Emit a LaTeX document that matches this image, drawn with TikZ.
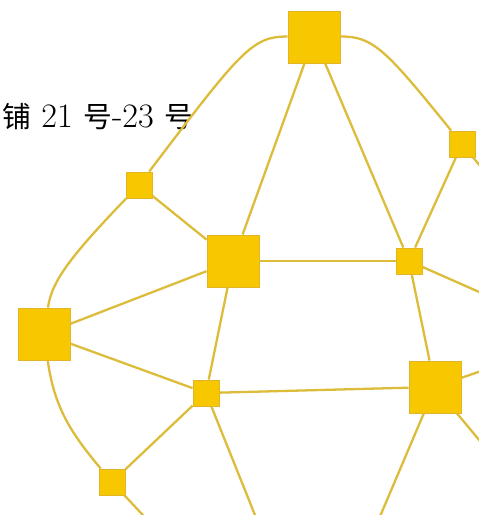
\documentclass[tikz,border=0pt]{standalone}
\usepackage{fontspec}
\newfontfamily\cjk[Scale=0.84]{Noto Sans CJK SC}
\usetikzlibrary{positioning}
\definecolor{NetGold}{RGB}{247,199,0}
\definecolor{NetRim}{RGB}{226,180,40}
\definecolor{NetEdge}{RGB}{220,188,56}
\tikzset{
  net/big/.style={
    rectangle,
    draw=NetRim,
    line width=0.5pt,
    fill=NetGold,
    minimum size=1.04cm,
    inner sep=0pt
  },
  net/small/.style={
    rectangle,
    draw=NetRim,
    line width=0.5pt,
    fill=NetGold,
    minimum size=0.52cm,
    inner sep=0pt
  },
  net/edge/.style={draw=NetEdge, line width=1.3pt},
  net/label/.style={font=\fontsize{19.5}{23}\selectfont, anchor=base west, inner sep=0pt}
}

\begin{document}
\begin{tikzpicture}[x=0.02cm,y=-0.02cm]
  \useasboundingbox (0,0) rectangle (479,515);
  \clip (0,0) rectangle (479,515);
  \node[net/label] (addr) at (2,127) {{\cjk 铺} 21 {\cjk 号}-23 {\cjk 号}};

  \node[net/big] (top) at (314,37) {};
  \node[net/small] (east) at (462,144) {};
  \node[net/small] (nw) at (139,185) {};
  \node[net/big] (hub) at (233,261) {};
  \node[net/small] (mid) at (409,261) {};
  \node[net/big] (west) at (44,334) {};
  \node[net/small] (low) at (206,393) {};
  \node[net/big] (se) at (435,387) {};
  \node[net/small] (sw) at (112,482) {};

  \coordinate (offE) at (500,190);
  \coordinate (offMid) at (520,310);
  \coordinate (offLow) at (265,540);
  \coordinate (offSeA) at (510,361);
  \coordinate (offSeB) at (500,465);
  \coordinate (offSeC) at (370,540);
  \coordinate (offSw) at (155,528);

  \draw[net/edge] (top) .. controls (252,36) and (240,52) .. (nw);
  \draw[net/edge] (top) .. controls (373,36) and (386,50) .. (east);
  \draw[net/edge] (top) -- (hub);
  \draw[net/edge] (top) -- (mid);
  \draw[net/edge] (east) -- (mid);
  \draw[net/edge] (east) -- (offE);
  \draw[net/edge] (nw) -- (hub);
  \draw[net/edge] (nw) .. controls (72,255) and (52,280) .. (west);
  \draw[net/edge] (hub) -- (mid);
  \draw[net/edge] (hub) -- (west);
  \draw[net/edge] (hub) -- (low);
  \draw[net/edge] (mid) -- (se);
  \draw[net/edge] (mid) -- (offMid);
  \draw[net/edge] (west) -- (low);
  \draw[net/edge] (west) to[out=-82,in=130] (sw);
  \draw[net/edge] (low) -- (se);
  \draw[net/edge] (low) -- (sw);
  \draw[net/edge] (low) -- (offLow);
  \draw[net/edge] (se) -- (offSeA);
  \draw[net/edge] (se) -- (offSeB);
  \draw[net/edge] (se) -- (offSeC);
  \draw[net/edge] (sw) -- (offSw);
\end{tikzpicture}
\end{document}
